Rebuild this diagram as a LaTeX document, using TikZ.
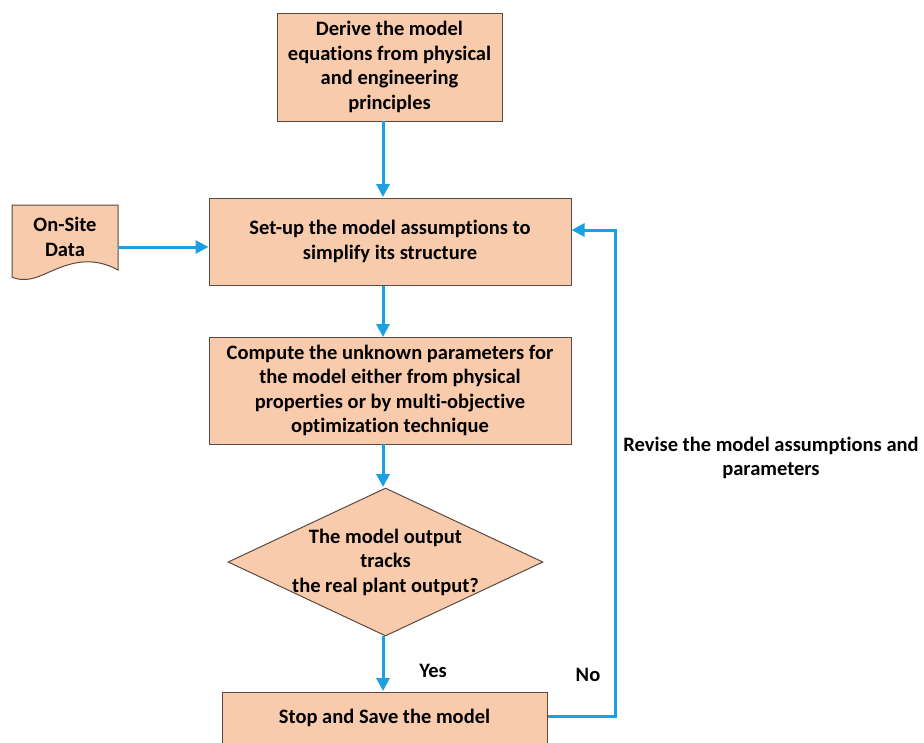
\documentclass[tikz,border=0pt]{standalone}
\usepackage{fontspec}
\setmainfont{Carlito}[Ligatures=NoCommon]
\usetikzlibrary{arrows.meta,shapes.geometric}
\definecolor{peach}{HTML}{F8CBAD}
\definecolor{flowblue}{HTML}{1BA1E2}
\definecolor{edgegray}{HTML}{5A4A42}
\begin{document}
\begin{tikzpicture}[x=1pt,y=-1pt,
  every node/.style={font=\fontsize{20.5}{24.5}\selectfont\bfseries, align=center},
  boxnode/.style={draw=edgegray, fill=peach, line width=1pt, inner sep=0pt},
  flow/.style={draw=flowblue, line width=3pt, -{Triangle[length=13pt,width=13pt]}}]
\useasboundingbox (0,0) rectangle (924,742);
\clip (0,0) rectangle (924,742);
% boxes
\node[boxnode, minimum width=225pt, minimum height=108pt] (derive) at (389.5,67) {Derive the model\\equations from physical\\and engineering\\principles};
\node[boxnode, minimum width=362pt, minimum height=87pt] (setup) at (390,241.5) {Set-up the model assumptions to\\simplify its structure};
\node[boxnode, minimum width=362pt, minimum height=107pt] (compute) at (390,390.5) {Compute the unknown parameters for\\the model either from physical\\properties or by multi-objective\\optimization technique};
\node[boxnode, diamond, aspect=2.13, minimum width=315pt, minimum height=148pt] (dec) at (385.5,562) {};
\node at (dec.center) {The model output\\tracks\\the real plant output?};
\node[boxnode, minimum width=325pt, minimum height=60pt] (stop) at (384.5,722) {};
\node at (384.5,718) {Stop and Save the model};
% on-site data document shape
\draw[draw=edgegray, fill=peach, line width=1pt] (12,205) -- (118,205) -- (118,270)
  .. controls (85,252) and (60,268) .. (40,276) .. controls (28,281) and (18,280) .. (12,277) -- cycle;
\node (data) at (65,237) {On-Site\\Data};
\coordinate (dataR) at (118,247);
% connectors
\draw[flow] (383,121) -- (383,197);
\draw[flow] (dataR) -- (setup.west |- dataR);
\draw[flow] (383,285.5) -- (383,337);
\draw[flow] (383,444) -- (383,487);
\draw[flow] (383,636) -- (383,691);
\coordinate (c1) at (615,716);
\coordinate (c2) at (615,230);
\draw[flow] (stop.east |- c1) -- (c1) -- (c2) -- (setup.east |- c2);
% labels
\node (yes) at (433,671) {Yes};
\node (no) at (588,675) {No};
\node (rev) at (771,458) {Revise the model assumptions and\\parameters};
\end{tikzpicture}
\end{document}
